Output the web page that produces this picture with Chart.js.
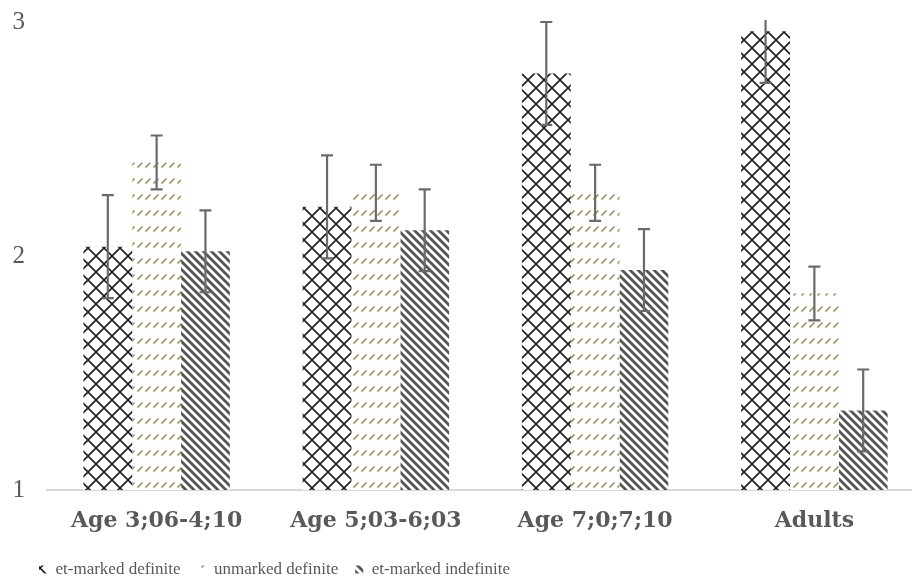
<!DOCTYPE html>
<html>
<head>
<meta charset="utf-8">
<script src="https://cdn.jsdelivr.net/npm/chart.js@4/dist/chart.umd.min.js"></script>
<style>
  html, body { margin: 0; padding: 0; background: #fff; overflow: hidden; }
  #wrap { width: 926px; height: 585px; }
</style>
</head>
<body>
<div id="wrap"><canvas id="chart"></canvas></div>
<script>
// === Données ===
const categories = ['Age 3;06-4;10', 'Age 5;03-6;03', 'Age 7;0;7;10', 'Adults'];
const seriesNames = ['et-marked definite', 'unmarked definite', 'et-marked indefinite'];
const markedDefinite = [2.04, 2.21, 2.78, 2.96];
const unmarkedDefinite = [2.40, 2.27, 2.27, 1.84];
const markedIndefinite = [2.02, 2.11, 1.94, 1.34];
const errMarkedDefinite = [0.22, 0.22, 0.22, 0.22];
const errUnmarkedDefinite = [0.115, 0.12, 0.12, 0.115];
const errMarkedIndefinite = [0.175, 0.175, 0.175, 0.175];
const yTicks = [1, 2, 3];

// === Motifs ===
function makeTile(w, h, draw) {
    const c = document.createElement('canvas');
    c.width = w; c.height = h;
    const g = c.getContext('2d');
    g.fillStyle = '#fff';
    g.fillRect(0, 0, w, h);
    draw(g);
    return document.createElement('canvas').getContext('2d').createPattern(c, 'repeat');
}

const crossPattern = makeTile(16, 16, function (g) {
    g.strokeStyle = '#1e1e1e';
    g.lineWidth = 1.6;
    g.beginPath();
    g.moveTo(0, 0); g.lineTo(16, 16);
    g.moveTo(16, 0); g.lineTo(0, 16);
    g.stroke();
});

const dashPattern = makeTile(8, 16, function (g) {
    g.strokeStyle = '#9f915c';
    g.lineWidth = 1.7;
    g.beginPath();
    g.moveTo(1.5, 7.5); g.lineTo(6.5, 2.5);
    g.stroke();
});

const stripePattern = makeTile(8, 8, function (g) {
    g.strokeStyle = '#555555';
    g.lineWidth = 2.8;
    g.beginPath();
    g.moveTo(-2, -2); g.lineTo(10, 10);
    g.moveTo(-2, 6); g.lineTo(2, 10);
    g.moveTo(6, -2); g.lineTo(10, 2);
    g.stroke();
});

// === Barres d'erreur ===
const errorBars = {
    id: 'errorBars',
    afterDatasetsDraw(chart) {
        const ctx = chart.ctx;
        const y = chart.scales.y;
        const area = chart.chartArea;
        ctx.save();
        ctx.beginPath();
        ctx.rect(area.left, area.top - 2, area.right - area.left, area.bottom - area.top + 2);
        ctx.clip();
        ctx.strokeStyle = '#6a6a6a';
        ctx.lineWidth = 2.2;
        chart.data.datasets.forEach(function (ds, i) {
            const meta = chart.getDatasetMeta(i);
            meta.data.forEach(function (bar, j) {
                const v = ds.data[j];
                const e = ds.errors[j];
                const yt = y.getPixelForValue(v + e);
                const yb = y.getPixelForValue(v - e);
                ctx.beginPath();
                ctx.moveTo(bar.x, yt); ctx.lineTo(bar.x, yb);
                ctx.moveTo(bar.x - 6, yt); ctx.lineTo(bar.x + 6, yt);
                ctx.moveTo(bar.x - 6, yb); ctx.lineTo(bar.x + 6, yb);
                ctx.stroke();
            });
        });
        ctx.restore();
    }
};

// === Décalage de la légende ===
const legendShift = {
    id: 'legendShift',
    afterLayout(chart) {
        if (chart.legend) {
            chart.legend.left += 22;
            chart.legend.top += 3;
        }
    }
};

new Chart(document.getElementById('chart'), {
    type: 'bar',
    data: {
        labels: categories,
        datasets: [
            { label: seriesNames[0], data: markedDefinite, errors: errMarkedDefinite, backgroundColor: crossPattern },
            { label: seriesNames[1], data: unmarkedDefinite, errors: errUnmarkedDefinite, backgroundColor: dashPattern },
            { label: seriesNames[2], data: markedIndefinite, errors: errMarkedIndefinite, backgroundColor: stripePattern }
        ]
    },
    options: {
        responsive: true,
        maintainAspectRatio: false,
        animation: false,
        layout: { padding: { top: 0, right: 2, bottom: 0, left: 0 } },
        datasets: { bar: { categoryPercentage: 0.668, barPercentage: 1.0 } },
        plugins: {
            legend: {
                position: 'bottom',
                align: 'start',
                labels: {
                    boxWidth: 8,
                    boxHeight: 8,
                    padding: 17,
                    color: '#595959',
                    font: { family: 'Liberation Serif', size: 17 }
                }
            },
            tooltip: { enabled: false }
        },
        scales: {
            x: {
                afterFit: function (scale) { scale.height = 51; },
                grid: { display: false, drawTicks: false },
                border: { color: '#d9d9d9', width: 2 },
                ticks: {
                    padding: 18,
                    color: '#595959',
                    font: { family: 'DejaVu Serif', size: 22, weight: 'bold' }
                }
            },
            y: {
                min: 1,
                max: 3,
                afterFit: function (scale) {
                    scale.width = 47;
                    scale.paddingTop = 22;
                    scale.paddingBottom = 0;
                },
                afterBuildTicks: function (scale) {
                    scale.ticks = yTicks.map(function (v) { return { value: v }; });
                },
                grid: { display: false, drawTicks: false },
                border: { display: false },
                ticks: {
                    padding: 22,
                    color: '#595959',
                    font: { family: 'Liberation Serif', size: 25 }
                }
            }
        }
    },
    plugins: [errorBars, legendShift]
});
</script>
</body>
</html>
